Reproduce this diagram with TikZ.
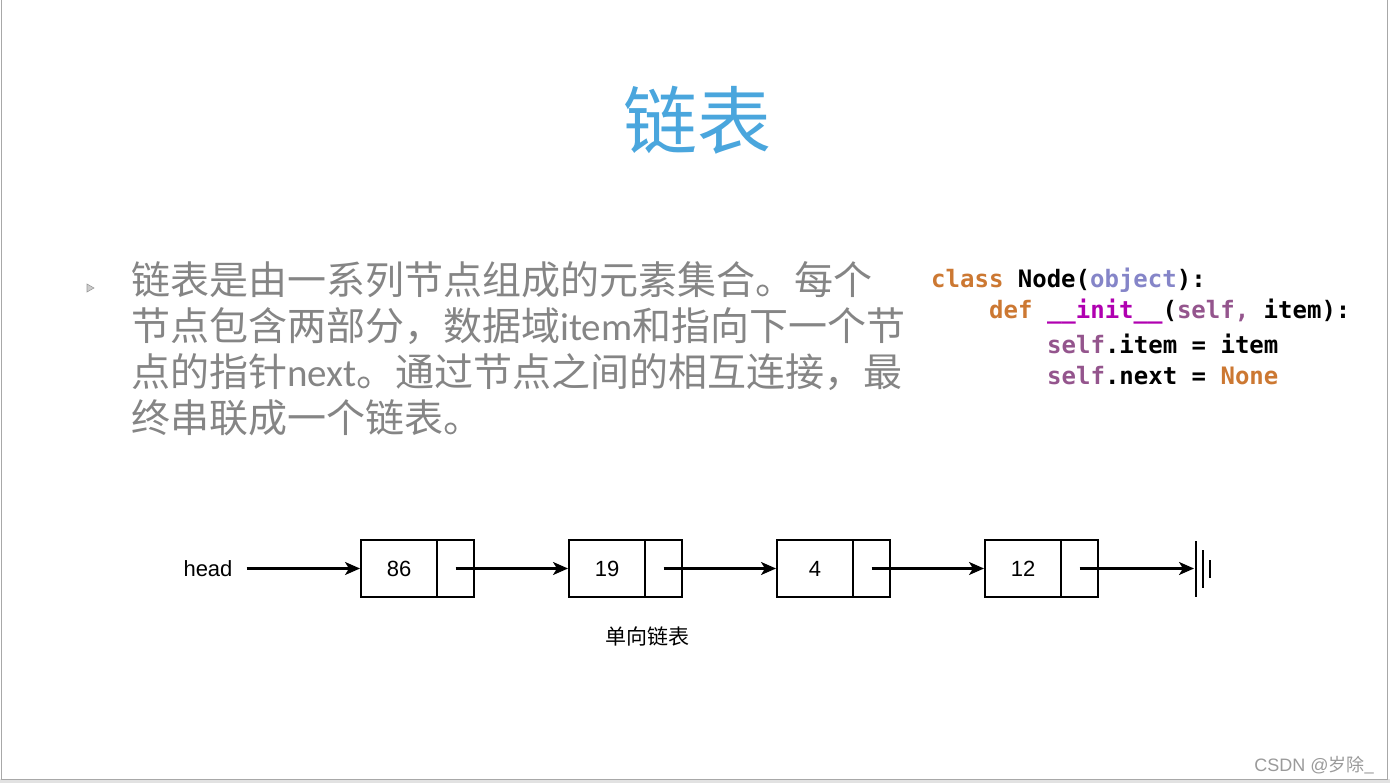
\documentclass[tikz,border=0pt]{standalone}
\usepackage{fontspec}
\newfontfamily\cjk{Noto Sans CJK SC}
\newfontfamily\carl{Carlito}
\newfontfamily\mono{DejaVu Sans Mono}
\newfontfamily\helv{Liberation Sans}
\usetikzlibrary{arrows.meta}
\definecolor{titleblue}{HTML}{4AA6DD}
\definecolor{bodygray}{HTML}{858585}
\definecolor{kworange}{HTML}{CC7832}
\definecolor{objcol}{HTML}{8585C8}
\definecolor{initcol}{HTML}{B000B0}
\definecolor{selfcol}{HTML}{94558D}
\definecolor{framegray}{HTML}{A8A8A8}
\definecolor{bandgray}{HTML}{E2E2E2}
\definecolor{markgray}{HTML}{9A9A9A}
\tikzset{
  bodyline/.style={anchor=west, inner sep=0pt, text=bodygray, font=\cjk\fontsize{39}{39}\selectfont},
  codeline/.style={anchor=west, inner sep=0pt, font=\mono\bfseries\fontsize{24}{24}\selectfont},
  databox/.style={draw, line width=2.2pt, outer sep=0pt, minimum width=76pt, minimum height=57pt, inner sep=0pt, font=\helv\fontsize{22}{22}\selectfont},
  ptrbox/.style={draw, line width=2.2pt, outer sep=0pt, minimum width=37pt, minimum height=57pt, inner sep=0pt, anchor=west},
  arr/.style={line width=2.2pt, -{Stealth[length=15pt, width=13pt, inset=4pt]}},
}
\begin{document}
\begin{tikzpicture}[x=1pt, y=-1pt]
\useasboundingbox (0,0) rectangle (1390,783);
% frame
\fill[bandgray] (0,779) rectangle (1390,783);
\draw[framegray, line width=1pt] (1.5,0) -- (1.5,779) -- (1387,779) -- (1387,0);
% title
\node[inner sep=0pt, text=titleblue, font=\cjk\fontsize{74}{74}\selectfont] (title) at (697,120) {链表};
% bullet
\filldraw[draw=markgray, fill=markgray!50, line width=0.6pt] (87,284) -- (94,288) -- (87,292) -- cycle;
% body text
\node[bodyline] (l1) at (131,280) {链表是由一系列节点组成的元素集合。每个};
\node[bodyline] (l2) at (131,326) {节点包含两部分，数据域{\carl item}和指向下一个节};
\node[bodyline] (l3) at (131,372) {点的指针{\carl next}。通过节点之间的相互连接，最};
\node[bodyline] (l4) at (131,418) {终串联成一个链表。};
% code
\node[codeline] (c1) at (931,280) {\textcolor{kworange}{class} Node(\textcolor{objcol}{object}):};
\node[codeline] (c2) at (989,312) {\textcolor{kworange}{def} \textcolor{initcol}{\_\_init\_\_}(\textcolor{selfcol}{self,} item):};
\node[codeline] (c3) at (1047,344) {\textcolor{selfcol}{self}.item = item};
\node[codeline] (c4) at (1047,376) {\textcolor{selfcol}{self}.next = \textcolor{kworange}{None}};
% linked list
\node[inner sep=0pt, font=\helv\fontsize{22}{22}\selectfont] (head) at (208,568.5) {head};
\node[databox] (d1) at (399,568.5) {86};
\node[ptrbox] (p1) at (d1.east) {};
\node[databox] (d2) at (607,568.5) {19};
\node[ptrbox] (p2) at (d2.east) {};
\node[databox] (d3) at (815,568.5) {4};
\node[ptrbox] (p3) at (d3.east) {};
\node[databox] (d4) at (1023,568.5) {12};
\node[ptrbox] (p4) at (d4.east) {};
\coordinate (null) at (1194,568.5);
\draw[arr] ([xshift=14pt]head.east) -- ([xshift=-1pt]d1.west);
\draw[arr] (p1.center) -- ([xshift=-1pt]d2.west);
\draw[arr] (p2.center) -- ([xshift=-1pt]d3.west);
\draw[arr] (p3.center) -- ([xshift=-1pt]d4.west);
\draw[arr] (p4.center) -- (null);
\draw[line width=2.2pt] ([xshift=2pt,yshift=-28pt]null) -- ([xshift=2pt,yshift=28pt]null);
\draw[line width=2pt] ([xshift=9pt,yshift=-19pt]null) -- ([xshift=9pt,yshift=19pt]null);
\draw[line width=2pt] ([xshift=16pt,yshift=-9pt]null) -- ([xshift=16pt,yshift=9pt]null);
\node[inner sep=0pt, font=\cjk\fontsize{21}{21}\selectfont] (caption) at (647,636) {单向链表};
% watermark
\node[anchor=east, inner sep=0pt, text=markgray, font=\helv\fontsize{18}{18}\selectfont] (wm) at (1375,765) {CSDN @{\cjk 岁除\_}};
\end{tikzpicture}
\end{document}
